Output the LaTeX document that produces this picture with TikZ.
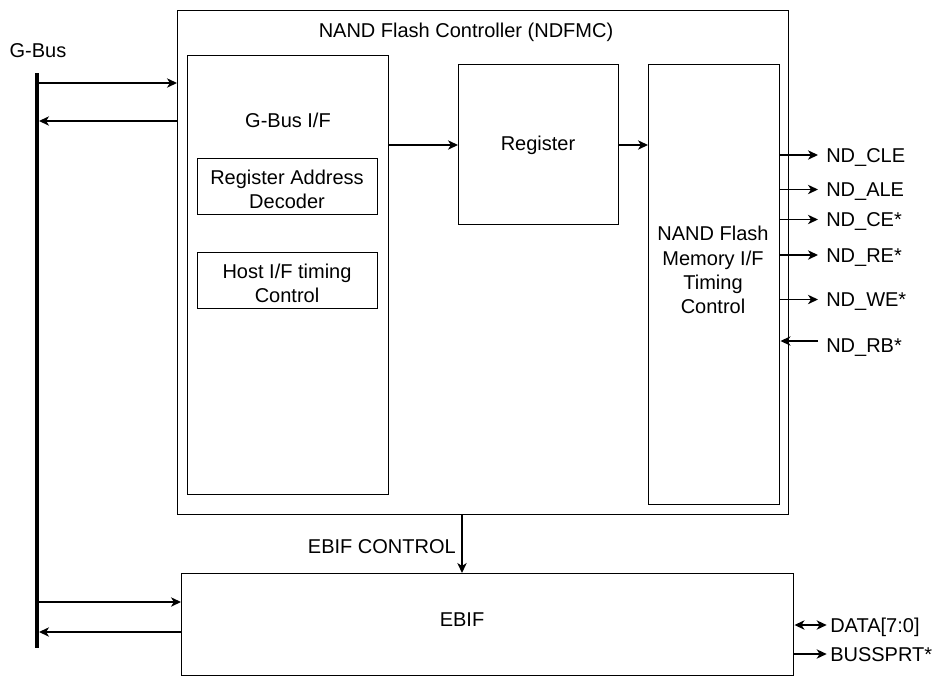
\documentclass[tikz,border=0pt]{standalone}
\usepackage{fontspec}
\setmainfont{Liberation Sans}
\usetikzlibrary{arrows.meta,calc}
\newcommand{\dfont}{\fontsize{15}{18.2}\selectfont}
\begin{document}
\begin{tikzpicture}[x=0.75pt,y=-0.75pt,
  box/.style={draw, line width=1.1pt, anchor=north west, inner sep=0pt},
  txt/.style={inner sep=0pt, align=center, font=\dfont},
  sig/.style={inner sep=0pt, anchor=west, font=\dfont, text height=10.8pt, text depth=0pt},
  tip/.tip={Stealth[length=7.5pt,width=7pt,inset=2.2pt]},
  arr/.style={line width=1.1pt, -tip},
  darr/.style={line width=1.1pt, tip-tip},
  bus/.style={line width=3pt}]
\useasboundingbox (0,0) rectangle (936,676);
% boxes
\node[box, minimum width=458.25pt, minimum height=378pt] (outer) at (177,10) {};
\node[txt] (title) at (466,32) {NAND Flash Controller (NDFMC)};
\node[box, minimum width=150.75pt, minimum height=329.25pt] (gbif) at (187,55) {};
\node[txt] (gbift) at (288,120) {G-Bus I/F};
\node[box, minimum width=135pt, minimum height=42pt] (rad) at (197,158) {};
\node[txt] (radt) at (287,189) {Register Address\\Decoder};
\node[box, minimum width=135pt, minimum height=42pt] (host) at (197,252) {};
\node[txt] (hostt) at (287,283) {Host I/F timing\\Control};
\node[box, minimum width=120pt, minimum height=120pt] (reg) at (458,64) {};
\node[txt] (regt) at (538,145) {Register};
\node[box, minimum width=98.25pt, minimum height=330pt] (nand) at (648,64) {};
\node[txt] (nandt) at (713,270) {NAND Flash\\Memory I/F\\Timing\\Control};
\node[box, minimum width=459pt, minimum height=76.5pt] (ebif) at (181,573) {};
\node[txt] (ebift) at (462,620) {EBIF};
% G-Bus
\node[txt] (gbus) at (38,51) {G-Bus};
\coordinate (bustop) at (37,73);
\coordinate (busbot) at (37,648);
\draw[bus] (bustop) -- (busbot);
\coordinate (b1) at (37,83);
\coordinate (b2) at (39,121);
\coordinate (b3) at (37,602);
\coordinate (b4) at (39,632);
\draw[arr] (b1) -- (b1 -| outer.west);
\draw[arr] (b2 -| outer.west) -- (b2);
\draw[arr] (b3) -- (b3 -| ebif.west);
\draw[arr] (b4 -| ebif.west) -- (b4);
% internal
\draw[arr] (gbif.east |- regt) -- (reg.west |- regt);
\draw[arr] (reg.east |- regt) -- (nand.west |- regt);
% NAND signals
\node[sig] (cle) at (826,155) {ND\_CLE};
\node[sig] (ale) at (826,189.5) {ND\_ALE};
\node[sig] (ce) at (826,219.5) {ND\_CE*};
\node[sig] (re) at (826,255) {ND\_RE*};
\node[sig] (we) at (826,299.5) {ND\_WE*};
\node[sig] (rb) at (826,345) {ND\_RB*};
\foreach \s in {cle,ale,ce,re,we}
  \draw[arr] (nand.east |- \s.west) -- ([xshift=-6pt]\s.west);
\coordinate (rbt) at ([xshift=-6pt,yshift=3pt]rb.west);
\draw[arr] (rbt) -- (nand.east |- rbt);
% EBIF control
\node[txt, anchor=east] (ebc) at (456,547) {EBIF CONTROL};
\draw[arr] (outer.south -| ebift) -- (ebif.north -| ebift);
% EBIF signals
\node[sig] (data) at (830,625) {DATA[7:0]};
\node[sig] (bsp) at (830,654) {BUSSPRT*};
\draw[darr] (ebif.east |- data.west) -- ([xshift=-2.5pt]data.west);
\draw[arr] (ebif.east |- bsp.west) -- ([xshift=-2.5pt]bsp.west);
\end{tikzpicture}
\end{document}
